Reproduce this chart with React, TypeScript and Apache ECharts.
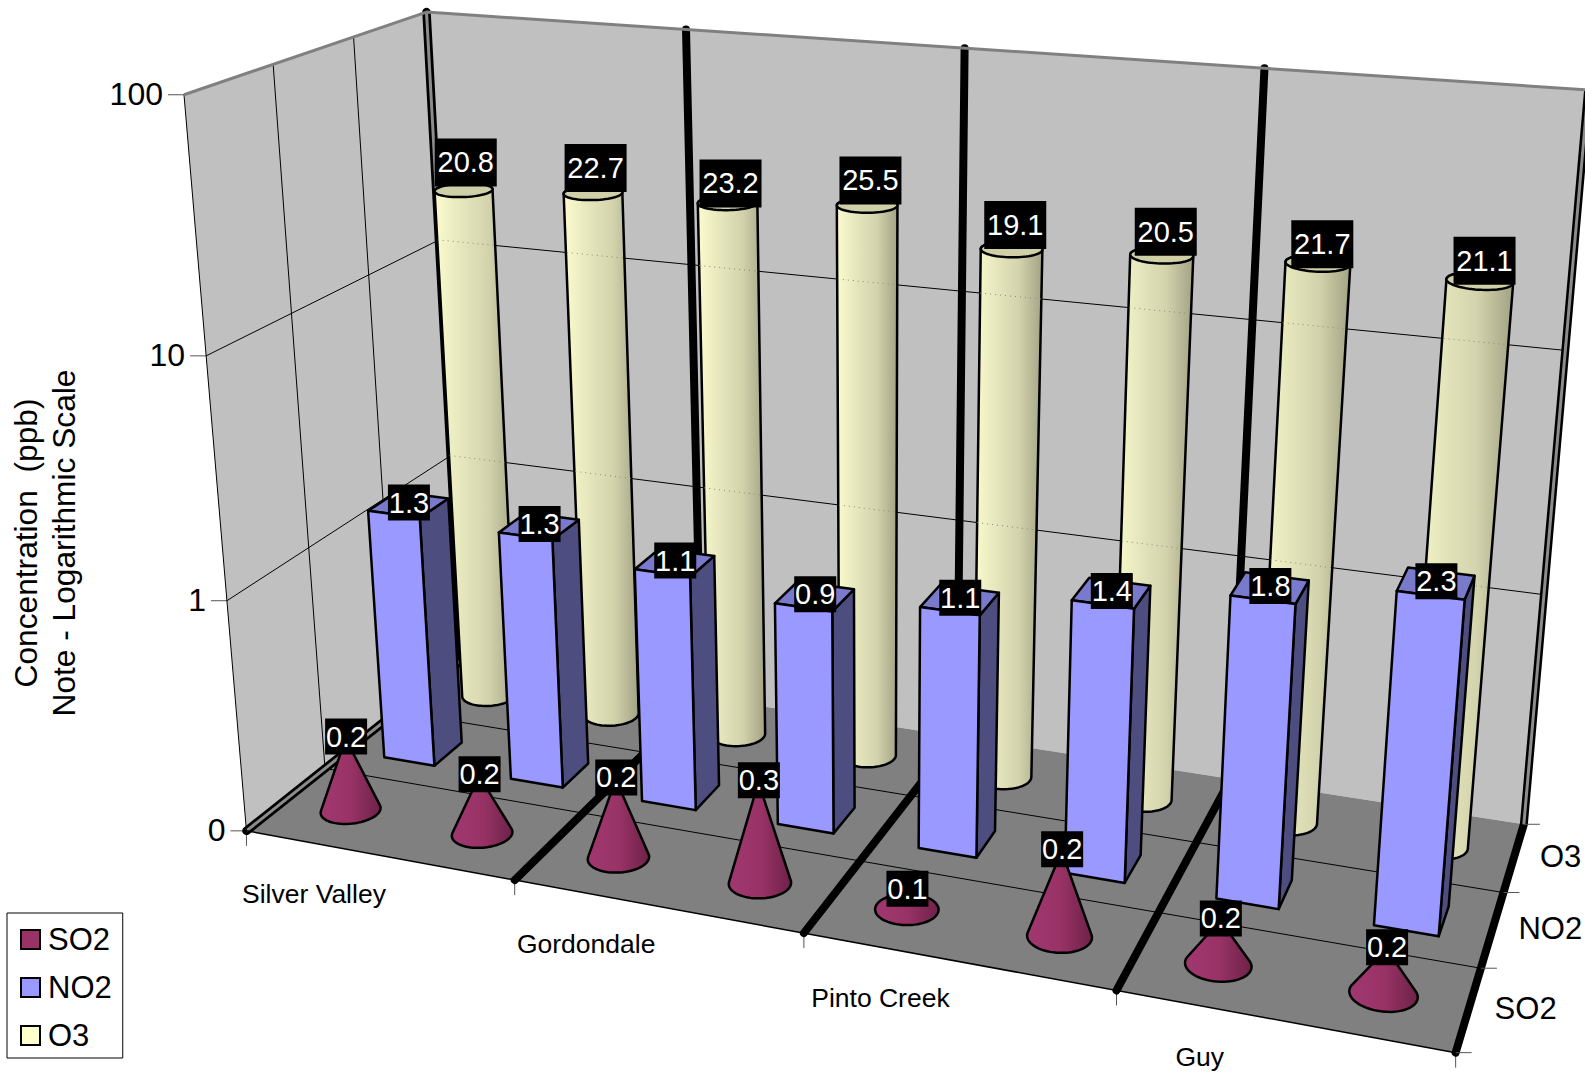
import React, { useEffect, useRef } from "react";
import * as echarts from "echarts";

const categories = ["Silver Valley", "", "Gordondale", "", "Pinto Creek", "", "Guy", ""];
const so2Values = [0.21, 0.18, 0.22, 0.27, 0.12, 0.226, 0.152, 0.152];
const no2Values = [1.32, 1.27, 1.06, 0.92, 1.08, 1.4, 1.78, 2.25];
const o3Values = [20.8, 22.7, 23.2, 25.5, 19.1, 20.5, 21.7, 21.1];
const depthLabels = ["SO2", "NO2", "O3"];
const valueTicks = [100, 10, 1, 0.1];
const valueTickLabels = ["100", "10", "1", "0"];

const FONT = '"Liberation Sans", Arial, sans-serif';
// Small per-label vertical placement offsets of the O3 data labels.
const o3LabelNudge = [0, 2, 7, 1, 1, 1, 5, 3];

// Camera calibration: [x, y, z, screenU, screenV] of the chart box.
const anchors = [
  [0, 0, 0, 249, 830], [1, 0, 0, 1453, 1052], [0, 0, 1, 460, 657], [1, 0, 1, 1522, 824],
  [0, 1, 0, 183, 94], [0, 1, 1, 427, 12], [1, 1, 1, 1585, 90],
  [0.25, 0, 0, 516.5, 879.5], [0.5, 0, 0, 803.6, 935], [0.75, 0, 0, 1115, 992.6],
  [0.25, 1, 1, 689, 28], [0.5, 1, 1, 967, 46], [0.75, 1, 1, 1265, 68],
  [0, 2 / 3, 0, 205, 355], [0, 1 / 3, 0, 226, 599], [0, 2 / 3, 1, 436, 243], [0, 1 / 3, 1, 451, 458],
  [1, 0, 1 / 3, 1483, 968], [1, 0, 2 / 3, 1507, 893], [0, 1, 1 / 3, 273, 66], [0, 1, 2 / 3, 354, 38],
];

function solveCamera(pts: number[][]) {
  const n = 11;
  const A = Array.from({ length: n }, () => new Array(n + 1).fill(0));
  const addRow = (r: number[], b: number) => {
    for (let i = 0; i < n; i++) {
      for (let j = 0; j < n; j++) A[i][j] += r[i] * r[j];
      A[i][n] += r[i] * b;
    }
  };
  for (const [X, Y, Z, u, v] of pts) {
    addRow([X, Y, Z, 1, 0, 0, 0, 0, -u * X, -u * Y, -u * Z], u);
    addRow([0, 0, 0, 0, X, Y, Z, 1, -v * X, -v * Y, -v * Z], v);
  }
  for (let c = 0; c < n; c++) {
    let p = c;
    for (let r = c + 1; r < n; r++) if (Math.abs(A[r][c]) > Math.abs(A[p][c])) p = r;
    [A[c], A[p]] = [A[p], A[c]];
    for (let r = 0; r < n; r++) {
      if (r === c) continue;
      const f = A[r][c] / A[c][c];
      for (let k = c; k <= n; k++) A[r][k] -= f * A[c][k];
    }
  }
  return A.map((row, i) => row[n] / row[i]);
}
const cam = solveCamera(anchors);
const project = (x: number, y: number, z: number) => {
  const w = cam[8] * x + cam[9] * y + cam[10] * z + 1;
  return [
    (cam[0] * x + cam[1] * y + cam[2] * z + cam[3]) / w,
    (cam[4] * x + cam[5] * y + cam[6] * z + cam[7]) / w,
  ];
};

function hull(points: number[][]) {
  const p = [...points].sort((a, b) => a[0] - b[0] || a[1] - b[1]);
  const cross = (o: number[], a: number[], b: number[]) =>
    (a[0] - o[0]) * (b[1] - o[1]) - (a[1] - o[1]) * (b[0] - o[0]);
  const lo: number[][] = [];
  for (const q of p) {
    while (lo.length >= 2 && cross(lo[lo.length - 2], lo[lo.length - 1], q) <= 0) lo.pop();
    lo.push(q);
  }
  const up: number[][] = [];
  for (const q of [...p].reverse()) {
    while (up.length >= 2 && cross(up[up.length - 2], up[up.length - 1], q) <= 0) up.pop();
    up.push(q);
  }
  return lo.slice(0, -1).concat(up.slice(0, -1));
}

function insideConvex(poly: number[][], q: number[]) {
  let sign = 0;
  for (let i = 0; i < poly.length; i++) {
    const a = poly[i];
    const b = poly[(i + 1) % poly.length];
    const c = (b[0] - a[0]) * (q[1] - a[1]) - (b[1] - a[1]) * (q[0] - a[0]);
    if (c !== 0) {
      if (sign !== 0 && Math.sign(c) !== sign) return false;
      sign = Math.sign(c);
    }
  }
  return true;
}

const BAR_FRACTION = 0.4;
const ROUND_FRACTION = 0.4;
const ROWS = 3;
const STROKE = { stroke: "#000", lineWidth: 2.5, lineJoin: "round" as const };

// Value and category pass through the chart's own (hidden) axes.
function toUnit(api: any, params: any, cat: number, val: number) {
  const g = params.coordSys;
  const c = api.coord([cat, val]);
  return { x: (c[0] - g.x) / g.width, y: (g.y + g.height - c[1]) / g.height };
}

function ring(cx: number, y: number, cz: number, rx: number, rz: number) {
  const pts: number[][] = [];
  for (let a = 0; a < 64; a++) {
    const t = (a / 64) * Math.PI * 2;
    pts.push(project(cx + rx * Math.cos(t), y, cz + rz * Math.sin(t)));
  }
  return pts;
}

const gradient = (stops: string[]) =>
  new echarts.graphic.LinearGradient(0, 0, 1, 0, stops.map((color, i) => ({ offset: i / (stops.length - 1), color })));

function renderCone(params: any, api: any) {
  const cat = api.value(0);
  const { x, y } = toUnit(api, params, cat, api.value(1));
  const rx = (ROUND_FRACTION / 2) / categories.length;
  const rz = (ROUND_FRACTION / 2) / ROWS;
  const base = ring(x, 0, 1 / 6, rx, rz);
  const apex = project(x, y, 1 / 6);
  return {
    type: "polygon",
    shape: { points: hull([...base, apex]) },
    style: { fill: gradient(["#a03870", "#993366", "#6e2249"]), ...STROKE },
  };
}

function renderBox(params: any, api: any) {
  const cat = api.value(0);
  const { x, y } = toUnit(api, params, cat, api.value(1));
  const hx = (BAR_FRACTION / 2) / categories.length;
  const hz = (BAR_FRACTION / 2) / ROWS;
  const z = 1 / 2;
  const p = (sx: number, sy: number, sz: number) => project(x + sx * hx, sy ? y : 0, z + sz * hz);
  return {
    type: "group",
    children: [
      { type: "polygon", shape: { points: [p(1, 0, -1), p(1, 0, 1), p(1, 1, 1), p(1, 1, -1)] }, style: { fill: "#4d4d80", ...STROKE } },
      { type: "polygon", shape: { points: [p(-1, 1, -1), p(1, 1, -1), p(1, 1, 1), p(-1, 1, 1)] }, style: { fill: "#7a7acc", ...STROKE } },
      { type: "polygon", shape: { points: [p(-1, 0, -1), p(1, 0, -1), p(1, 1, -1), p(-1, 1, -1)] }, style: { fill: "#9999ff", ...STROKE } },
    ],
  };
}

function renderCylinder(params: any, api: any) {
  const cat = api.value(0);
  const val = api.value(1);
  const { x, y } = toUnit(api, params, cat, val);
  const rx = (ROUND_FRACTION / 2) / categories.length;
  const rz = (ROUND_FRACTION / 2) / ROWS;
  const bottom = ring(x, 0, 5 / 6, rx, rz);
  const top = ring(x, y, 5 / 6, rx, rz);
  const body = hull([...bottom, ...top]);
  const children: any[] = [
    {
      type: "polygon",
      shape: { points: body },
      style: { fill: gradient(["#fbfbce", "#e6e6bd", "#d2d2ac", "#a3a385"]), ...STROKE },
    },
  ];
  // wall grid shows through the cylinder as a faint dotted line
  valueTicks.slice(1, -1).forEach((t) => {
    const gy = toUnit(api, params, cat, t).y;
    const hits: number[][] = [];
    for (let s = 0; s <= 200; s++) {
      const q = project(x - 1 / categories.length + (s / 200) * (2 / categories.length), gy, 1);
      if (insideConvex(body, q)) hits.push(q);
    }
    if (hits.length > 1) {
      children.push({
        type: "line",
        shape: { x1: hits[0][0], y1: hits[0][1], x2: hits[hits.length - 1][0], y2: hits[hits.length - 1][1] },
        style: { stroke: "#8a8a70", lineWidth: 1, lineDash: [1, 4] },
      });
    }
  });
  children.push({ type: "polygon", shape: { points: top }, style: { fill: "#cfcfa8", ...STROKE } });
  return { type: "group", children };
}

const labelRows = [
  { values: o3Values, z: 5 / 6 },
  { values: no2Values, z: 1 / 2 },
  { values: so2Values, z: 1 / 6 },
];
const labelData: number[][] = [];
labelRows.forEach((r, kind) => r.values.forEach((v, i) => labelData.push([i, v, kind])));

function renderLabel(params: any, api: any) {
  const cat = api.value(0);
  const val = api.value(1);
  const kind = api.value(2);
  const { x, y } = toUnit(api, params, cat, val);
  const [u0, v] = project(x, y, labelRows[kind].z);
  const text = val.toFixed(1);
  const w = text.length > 3 ? 62 : 42;
  const h = text.length > 3 ? 48 : 36;
  const u = kind === 0 ? u0 + 2 + 3 * x : u0 + 0.5;
  const cy = kind === 0 ? v - 28 + 5 * x + o3LabelNudge[cat] : v - 2;
  return {
    type: "group",
    children: [
      { type: "rect", shape: { x: u - w / 2, y: cy - h / 2, width: w, height: h }, style: { fill: "#000" } },
      {
        type: "text",
        style: { text, x: u, y: cy, fill: "#fff", font: `29px ${FONT}`, align: "center", verticalAlign: "middle" },
      },
    ],
  };
}

function renderFrame(params: any, api: any) {
  const yOf = (v: number) => toUnit(api, params, 0, v).y;
  const line = (pts: number[][], stroke: string, lineWidth: number, lineCap = "butt") => ({
    type: "polyline",
    shape: { points: pts },
    style: { stroke, lineWidth, fill: "none", lineCap, lineJoin: "round" },
  });
  const poly = (pts: number[][], fill: string) => ({ type: "polygon", shape: { points: pts }, style: { fill } });
  const label = (text: string, x: number, y: number, size: number, align: string) => ({
    type: "text",
    style: { text, x, y, fill: "#000", font: `${size}px ${FONT}`, align, verticalAlign: "middle" },
  });
  const kids: any[] = [
    poly([project(0, 0, 0), project(0, 1, 0), project(0, 1, 1), project(0, 0, 1)], "#c0c0c0"),
    poly([project(0, 0, 1), project(0, 1, 1), project(1, 1, 1), project(1, 0, 1)], "#c0c0c0"),
    poly([project(0, 0, 0), project(1, 0, 0), project(1, 0, 1), project(0, 0, 1)], "#808080"),
  ];
  valueTicks.slice(1, -1).forEach((t) => {
    const y = yOf(t);
    kids.push(line([project(0, y, 0), project(0, y, 1), project(1, y, 1)], "#000", 1));
  });
  for (let i = 1; i < ROWS; i++) {
    const z = i / ROWS;
    kids.push(line([project(0, 1, z), project(0, 0, z), project(1, 0, z)], "#000", 1));
  }
  valueTicks.forEach((t, i) => {
    const y = yOf(t);
    const [u, v] = project(0, y, 0);
    kids.push(line([[u - 16, v], [u, v]], "#555", 1));
    kids.push(label(valueTickLabels[i], u - 21, v - 1, 32, "right"));
  });
  const n = categories.length;
  for (let i = 0; i <= n; i += 2) {
    const x = i / n;
    const [u, v] = project(x, 0, 0);
    kids.push(line([[u, v], [u, v + 15]], "#555", 1));
    const path = i === n
      ? [project(x, 0, 0), project(x, 0, 1)]
      : [project(x, 0, 0), project(x, 0, 1), project(x, 1, 1)];
    if (i === 0) continue;
    kids.push(line(path, "#000", 8, "round"));
    if (i === n) {
      const side = [project(x, 0, 1), project(x, 1, 1)];
      kids.push(line(side, "#000", 8));
      kids.push(line(side, "#8c8c8c", 3));
    }
  }
  const leftEdge = [project(0, 0, 0), project(0, 0, 1), project(0, 1, 1)];
  kids.push(line(leftEdge, "#000", 8.5, "round"));
  kids.push(line(leftEdge, "#8c8c8c", 3));
  kids.push(line([project(0, 0, 0), project(0, 1, 0)], "#000", 1));
  kids.push(line([project(0, 0, 0), project(1, 0, 0)], "#000", 1.5));
  kids.push(line([project(0, 1, 0), project(0, 1, 1), project(1, 1, 1)], "#808080", 3));
  categories.forEach((c, i) => {
    if (!c) return;
    const x = (i + 1) / n;
    const [u, v] = project(x, 0, 0);
    kids.push(label(c, u - 61 - 25 * x, v + 40 - 5 * x, 26.5, "center"));
  });
  for (let i = 0; i <= ROWS; i++) {
    const [u, v] = project(1, 0, i / ROWS);
    kids.push(line([[u, v], [u + 16, v]], "#555", 1));
  }
  depthLabels.forEach((d, i) => {
    const [u, v] = project(1, 0, (i + 0.5) / ROWS);
    kids.push(label(d, u + 26, v - 1, 31, "left"));
  });
  return { type: "group", children: kids };
}

export default function App() {
  const ref = useRef<HTMLDivElement>(null);
  useEffect(() => {
    const chart = echarts.init(ref.current!, null, { renderer: "svg" });
    const legendIcon = (name: string, color: string) => ({
      name,
      icon: "rect",
      itemStyle: { color, borderColor: "#000", borderWidth: 2 },
    });
    chart.setOption({
      animation: false,
      backgroundColor: "#fff",
      grid: { left: 0, top: 0, width: 800, height: 600, show: false },
      xAxis: { type: "category", data: categories, show: false },
      yAxis: { type: "log", logBase: 10, min: 0.1, max: 100, show: false },
      legend: {
        orient: "vertical",
        left: 7,
        top: 913,
        padding: [11, 11, 7, 13],
        itemWidth: 19,
        itemHeight: 19,
        itemGap: 17,
        borderColor: "#000",
        borderWidth: 1,
        textStyle: { fontFamily: FONT, fontSize: 31, color: "#000", padding: [0, 0, 0, 3] },
        data: [legendIcon("SO2", "#993366"), legendIcon("NO2", "#9999ff"), legendIcon("O3", "#ffffcc")],
      },
      graphic: [
        {
          type: "text", x: 26, y: 543, rotation: Math.PI / 2,
          style: { text: "Concentration  (ppb)", fill: "#000", font: `31.7px ${FONT}`, align: "center", verticalAlign: "middle" },
        },
        {
          type: "text", x: 64, y: 543, rotation: Math.PI / 2,
          style: { text: "Note - Logarithmic Scale", fill: "#000", font: `31.7px ${FONT}`, align: "center", verticalAlign: "middle" },
        },
      ],
      series: [
        { type: "custom", name: "frame", z: 1, data: [[0, 1]], renderItem: renderFrame, silent: true },
        { type: "custom", name: "O3", z: 2, data: o3Values.map((v, i) => [i, v]), renderItem: renderCylinder, silent: true, itemStyle: { color: "#ffffcc" } },
        { type: "custom", name: "NO2", z: 3, data: no2Values.map((v, i) => [i, v]), renderItem: renderBox, silent: true, itemStyle: { color: "#9999ff" } },
        { type: "custom", name: "SO2", z: 4, data: so2Values.map((v, i) => [i, v]), renderItem: renderCone, silent: true, itemStyle: { color: "#993366" } },
        { type: "custom", name: "labels", z: 5, data: labelData, renderItem: renderLabel, silent: true },
      ],
    });
    return () => chart.dispose();
  }, []);
  return <div ref={ref} style={{ position: "fixed", left: 0, top: 0, width: 1585, height: 1073 }} />;
}
